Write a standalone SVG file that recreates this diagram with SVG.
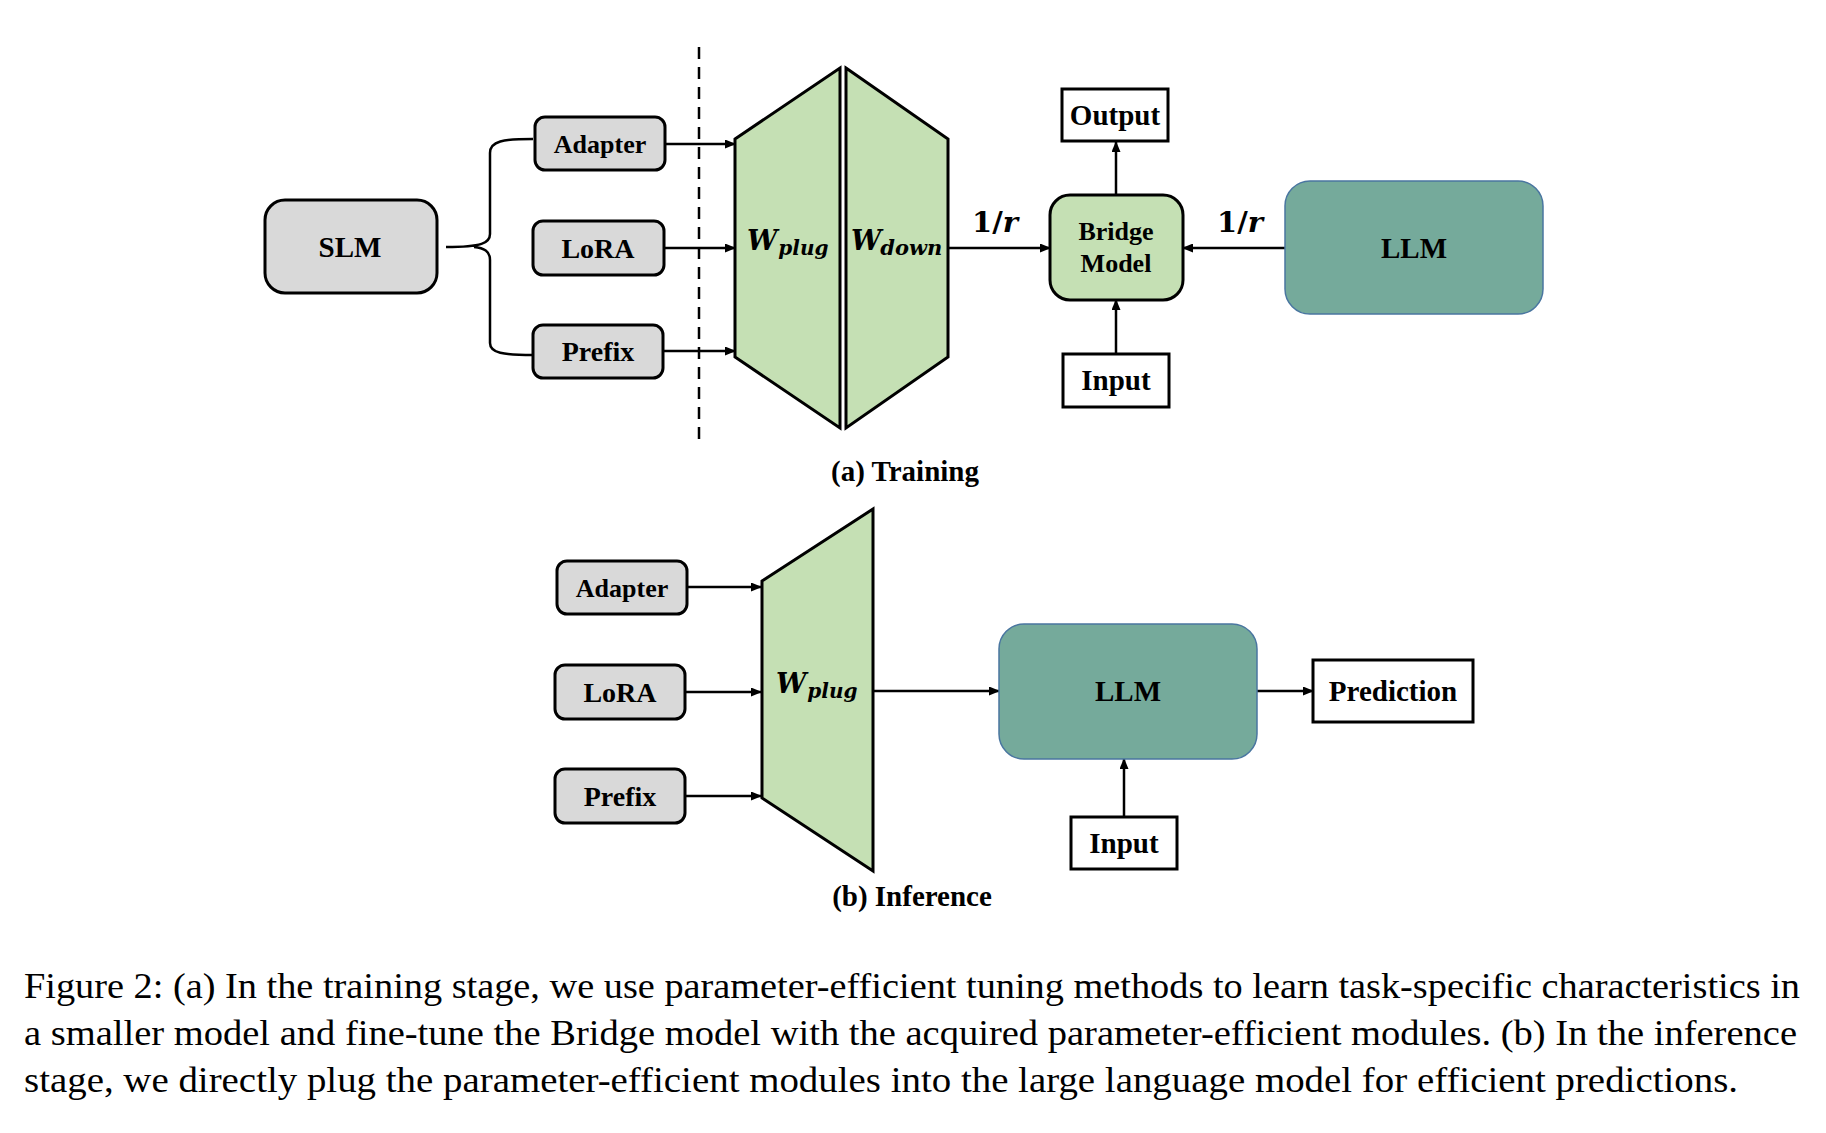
<svg xmlns="http://www.w3.org/2000/svg" width="1826" height="1133" viewBox="0 0 1826 1133">
<defs>
<marker id="ah" markerUnits="userSpaceOnUse" markerWidth="11" markerHeight="9" refX="10" refY="4.5" orient="auto">
<path d="M0,0 L11,4.5 L0,9 z" fill="#000"/>
</marker>
<style>
.gray{fill:#d9d9d9;stroke:#000;stroke-width:3}
.green{fill:#c5e0b4;stroke:#000;stroke-width:3;stroke-linejoin:miter}
.teal{fill:#75aa9b;stroke:#4a76a0;stroke-width:1.5}
.plain{fill:#fff;stroke:#000;stroke-width:3}
.lbl{font-family:"Liberation Serif","Times New Roman",serif;font-weight:bold;fill:#000;text-anchor:middle}
.math{font-family:"DejaVu Serif",serif;font-weight:bold;font-style:italic;fill:#000}
.up{font-style:normal}
.sub{font-size:20px}
.cap{font-family:"Liberation Serif","Times New Roman",serif;font-size:36px;fill:#000}
.conn line,.conn path{stroke:#000;stroke-width:2.5;fill:none}
</style>
</defs>
<rect width="1826" height="1133" fill="#fff"/>

<g id="connectors" class="conn">
<line x1="699" y1="47" x2="699" y2="440" stroke-dasharray="12 8"/>
<path d="M533 139 C503 139 490 141 490 153 L490 234 C490 243 482 247 446 247 M474 247 C484 248 490 251 490 260 L490 343 C490 353 503 355 533 355"/>
<line x1="665" y1="144" x2="735" y2="144" marker-end="url(#ah)"/>
<line x1="664" y1="248" x2="735" y2="248" marker-end="url(#ah)"/>
<line x1="663" y1="351" x2="735" y2="351" marker-end="url(#ah)"/>
<line x1="948" y1="248" x2="1050" y2="248" marker-end="url(#ah)"/>
<line x1="1285" y1="248" x2="1183" y2="248" marker-end="url(#ah)"/>
<line x1="1116" y1="195" x2="1116" y2="142" marker-end="url(#ah)"/>
<line x1="1116" y1="354" x2="1116" y2="300" marker-end="url(#ah)"/>
<line x1="687" y1="587" x2="761" y2="587" marker-end="url(#ah)"/>
<line x1="685" y1="692" x2="761" y2="692" marker-end="url(#ah)"/>
<line x1="685" y1="796" x2="761" y2="796" marker-end="url(#ah)"/>
<line x1="873" y1="691" x2="999" y2="691" marker-end="url(#ah)"/>
<line x1="1257" y1="691" x2="1313" y2="691" marker-end="url(#ah)"/>
<line x1="1124" y1="817" x2="1124" y2="759" marker-end="url(#ah)"/>
</g>

<g id="slm"><rect class="gray" x="265" y="200" width="172" height="93" rx="20"/><text class="lbl" x="350" y="257" font-size="29">SLM</text></g>
<g id="adapter-a"><rect class="gray" x="535" y="117" width="130" height="53" rx="10"/><text class="lbl" x="600" y="153" font-size="26">Adapter</text></g>
<g id="lora-a"><rect class="gray" x="533" y="221" width="131" height="54" rx="10"/><text class="lbl" x="598" y="258" font-size="28">LoRA</text></g>
<g id="prefix-a"><rect class="gray" x="533" y="325" width="130" height="53" rx="10"/><text class="lbl" x="598" y="361" font-size="28">Prefix</text></g>

<g id="wplug-a"><polygon class="green" points="735,139 840,68 840,428 735,357"/>
<text class="math" x="747" y="250" font-size="27">W<tspan class="sub" dx="1" dy="5">plug</tspan></text></g>
<g id="wdown-a"><polygon class="green" points="846,68 948,139 948,357 846,428"/>
<text class="math" x="851" y="250" font-size="27">W<tspan class="sub" dx="-1" dy="5" textLength="62" lengthAdjust="spacingAndGlyphs">down</tspan></text></g>

<g id="ratio-left"><text class="math" x="972" y="232" font-size="27" textLength="46" lengthAdjust="spacingAndGlyphs"><tspan class="up">1/</tspan>r</text></g>
<g id="ratio-right"><text class="math" x="1217" y="232" font-size="27" textLength="46" lengthAdjust="spacingAndGlyphs"><tspan class="up">1/</tspan>r</text></g>

<g id="bridge"><rect class="green" x="1050" y="195" width="133" height="105" rx="20"/><text class="lbl" x="1116" y="240" font-size="26">Bridge</text><text class="lbl" x="1116" y="272" font-size="26">Model</text></g>
<g id="output"><rect class="plain" x="1062" y="89" width="106" height="52"/><text class="lbl" x="1115" y="125" font-size="29">Output</text></g>
<g id="input-a"><rect class="plain" x="1063" y="354" width="106" height="53"/><text class="lbl" x="1116" y="390" font-size="29">Input</text></g>
<g id="llm-a"><rect class="teal" x="1285" y="181" width="258" height="133" rx="25"/><text class="lbl" x="1414" y="258" font-size="29">LLM</text></g>

<text class="lbl" x="905" y="481" font-size="29">(a) Training</text>

<g id="adapter-b"><rect class="gray" x="557" y="561" width="130" height="53" rx="10"/><text class="lbl" x="622" y="597" font-size="26">Adapter</text></g>
<g id="lora-b"><rect class="gray" x="555" y="665" width="130" height="54" rx="10"/><text class="lbl" x="620" y="702" font-size="28">LoRA</text></g>
<g id="prefix-b"><rect class="gray" x="555" y="769" width="130" height="54" rx="10"/><text class="lbl" x="620" y="806" font-size="28">Prefix</text></g>

<g id="wplug-b"><polygon class="green" points="762,581 873,509 873,871 762,798"/>
<text class="math" x="776" y="693" font-size="27">W<tspan class="sub" dx="1" dy="5">plug</tspan></text></g>

<g id="llm-b"><rect class="teal" x="999" y="624" width="258" height="135" rx="25"/><text class="lbl" x="1128" y="701" font-size="29">LLM</text></g>
<g id="prediction"><rect class="plain" x="1313" y="660" width="160" height="62"/><text class="lbl" x="1393" y="701" font-size="29">Prediction</text></g>
<g id="input-b"><rect class="plain" x="1071" y="817" width="106" height="52"/><text class="lbl" x="1124" y="853" font-size="29">Input</text></g>

<text class="lbl" x="912" y="906" font-size="29">(b) Inference</text>

<g id="caption">
<text class="cap" x="24" y="998" textLength="1776" lengthAdjust="spacingAndGlyphs">Figure 2: (a) In the training stage, we use parameter-efficient tuning methods to learn task-specific characteristics in</text>
<text class="cap" x="24" y="1045" textLength="1773" lengthAdjust="spacingAndGlyphs">a smaller model and fine-tune the Bridge model with the acquired parameter-efficient modules. (b) In the inference</text>
<text class="cap" x="24" y="1092" textLength="1714" lengthAdjust="spacingAndGlyphs">stage, we directly plug the parameter-efficient modules into the large language model for efficient predictions.</text>
</g>
</svg>
